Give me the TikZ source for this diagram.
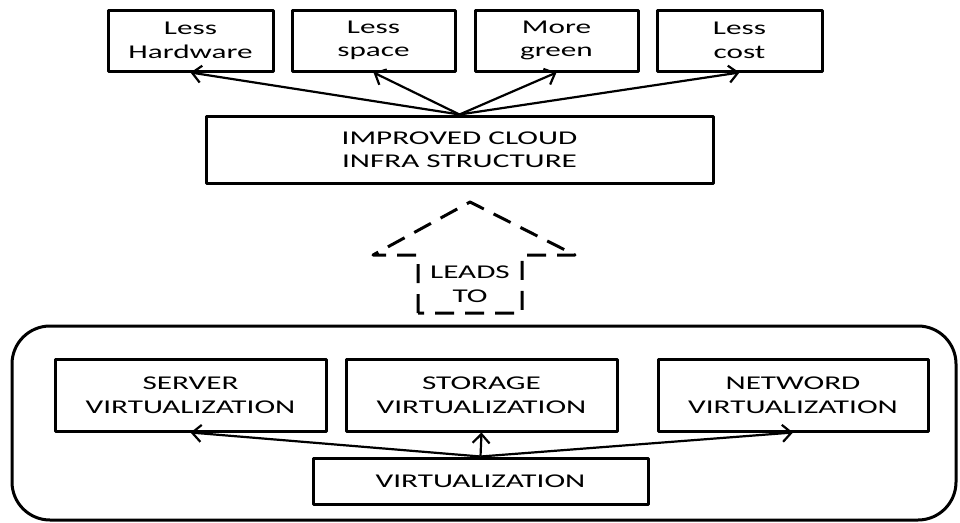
\documentclass[tikz,border=0pt]{standalone}
\usepackage{fontspec}
\setmainfont{Carlito}[FakeStretch=1.6]
\usetikzlibrary{arrows.meta}
\begin{document}
\begin{tikzpicture}[x=1pt,y=-1pt,>={Straight Barb[length=9pt,width=17pt,line width=2.2pt]},
	font=\fontsize{19.5}{23.5}\selectfont, line join=round,
	box/.style={draw,line width=3pt,align=center,inner sep=0pt,minimum height=61pt},
	link/.style={->,line width=2.2pt}]
	\useasboundingbox (0,0) rectangle (960,522);
	% benefits
	\node[box,minimum width=165pt] (hw) at (190.5,40.5) {Less\\Hardware};
	\node[box,minimum width=163pt] (space) at (373.5,40.5) {Less\\space};
	\node[box,minimum width=163pt] (green) at (556.5,40.5) {More\\green};
	\node[box,minimum width=165pt] (cost) at (739.5,40.5) {Less\\cost};
	\node[box,minimum width=507pt,minimum height=67pt] (cloud) at (459.5,149.5) {IMPROVED CLOUD\\INFRA STRUCTURE};
	\draw[link] (cloud.north)--(hw.south);
	\draw[link] (cloud.north)--(space.south);
	\draw[link] (cloud.north)--(green.south);
	\draw[link] (cloud.north)--(cost.south);
	% leads to
	\draw[line width=3pt,dash pattern=on 19pt off 11pt]
		(418,313)--(418,255)--(373,255)--(470,202)--(575,255)--(522,255)--(522,313)--cycle;
	\node[align=center] (leads) at (470,284) {LEADS\\TO};
	% virtualization
	\draw[line width=3pt,rounded corners=38pt] (12,326) rectangle (956,520);
	\node[box,minimum width=271pt,minimum height=72pt] (server) at (190.5,395) {SERVER\\VIRTUALIZATION};
	\node[box,minimum width=271pt,minimum height=72pt] (storage) at (481.5,395) {STORAGE\\VIRTUALIZATION};
	\node[box,minimum width=270pt,minimum height=72pt] (netw) at (793,395) {NETWORD\\VIRTUALIZATION};
	\node[box,minimum width=335pt,minimum height=46pt] (virt) at (480.5,481) {VIRTUALIZATION};
	\draw[link] (virt.north)--(server.south);
	\draw[link] (virt.north)--(storage.south);
	\draw[link] (virt.north)--(netw.south);
\end{tikzpicture}
\end{document}
